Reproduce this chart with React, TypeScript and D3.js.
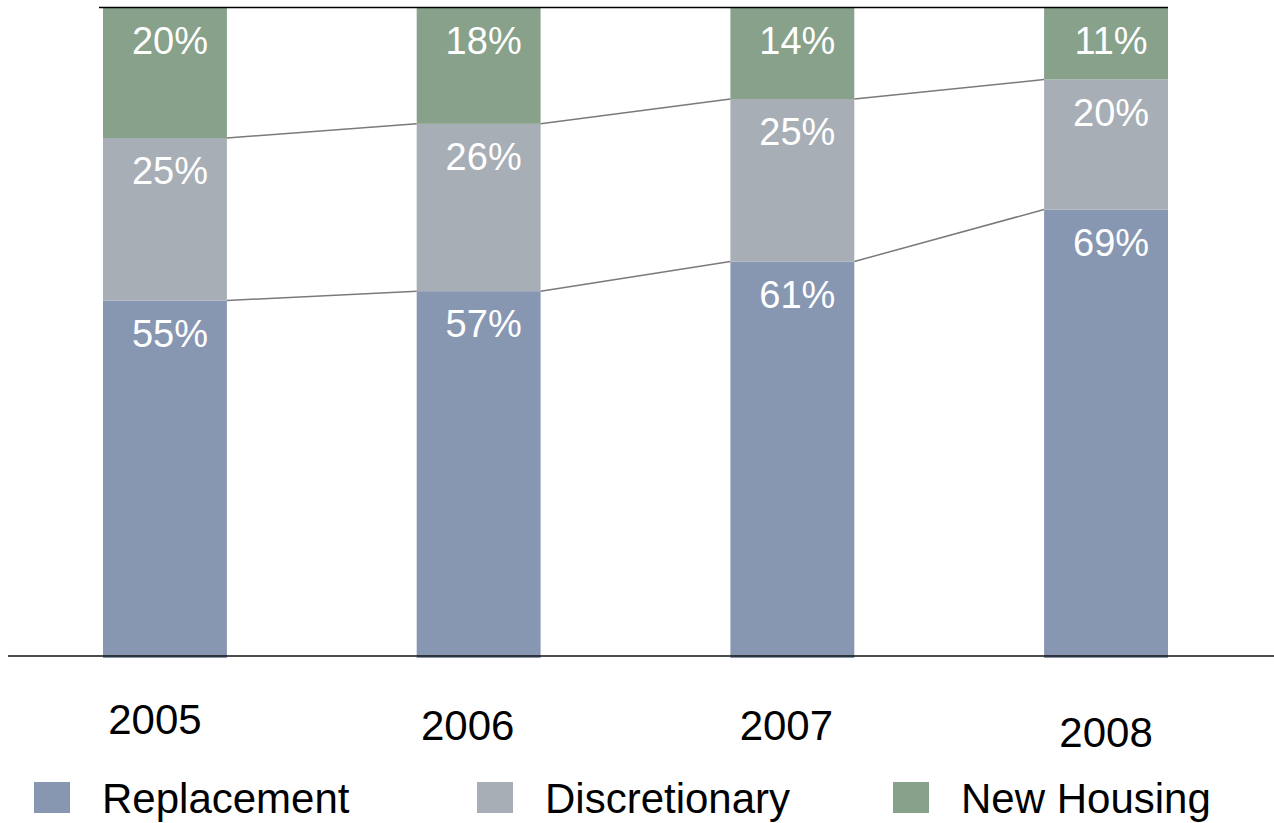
import React from "react";
import * as d3 from "d3";

// Share of spending by segment, per year (percent)
const years = ["2005", "2006", "2007", "2008"];
const replacement = [55, 57, 61, 69];
const discretionary = [25, 26, 25, 20];
const newHousing = [20, 18, 14, 11];

const seriesKeys = ["Replacement", "Discretionary", "New Housing"];
const seriesColors = ["#8797b2", "#a7aeb5", "#87a18a"];

// Small per-label nudges for the year captions [dx, baseline]
const yearLabelNudge: [number, number][] = [
  [-10, 734],
  [-11, 740],
  [-6, 740],
  [0, 747],
];

const W = 1274;
const H = 823;
const FONT = "'Liberation Sans', Arial, sans-serif";

export default function App() {
  const rows = years.map((y, i) => ({
    year: y,
    Replacement: replacement[i],
    Discretionary: discretionary[i],
    "New Housing": newHousing[i],
  }));

  const stack = d3
    .stack<any>()
    .keys(seriesKeys)
    .offset(d3.stackOffsetExpand);
  const layers = stack(rows);

  const x = d3
    .scaleBand<string>()
    .domain(years)
    .range([103, 1168])
    .paddingInner(0.605)
    .paddingOuter(0);
  const y = d3.scaleLinear().domain([0, 1]).range([658, 8]);
  const bw = x.bandwidth();

  // Connector lines between the segment boundaries of neighbouring bars
  const connectors: { x1: number; y1: number; x2: number; y2: number }[] = [];
  for (let k = 0; k < layers.length - 1; k++) {
    const layer = layers[k];
    for (let i = 0; i < years.length - 1; i++) {
      connectors.push({
        x1: (x(years[i]) as number) + bw,
        y1: y(layer[i][1]),
        x2: x(years[i + 1]) as number,
        y2: y(layer[i + 1][1]),
      });
    }
  }

  const legendX = [34, 477, 893];

  return (
    <svg
      width={W}
      height={H}
      style={{ position: "absolute", left: 0, top: 0, background: "#fff" }}
      fontFamily={FONT}
    >
      {layers.map((layer, k) => (
        <g key={seriesKeys[k]} fill={seriesColors[k]}>
          {layer.map((d, i) => (
            <rect
              key={years[i]}
              x={x(years[i])}
              y={y(d[1])}
              width={bw}
              height={y(d[0]) - y(d[1])}
            />
          ))}
        </g>
      ))}

      {connectors.map((c, i) => (
        <line
          key={i}
          x1={c.x1}
          y1={c.y1}
          x2={c.x2}
          y2={c.y2}
          stroke="#7a7a7a"
          strokeWidth={1.5}
        />
      ))}

      {layers.map((layer, k) =>
        layer.map((d, i) => (
          <text
            key={`${k}-${i}`}
            x={(x(years[i]) as number) + bw / 2 + 5}
            y={y(d[1]) + 46}
            textAnchor="middle"
            fill="#fff"
            fontSize={38}
          >
            {`${(rows[i] as any)[seriesKeys[k]]}%`}
          </text>
        ))
      )}

      {/* plot frame top and baseline */}
      <line x1={99} x2={1168} y1={7.5} y2={7.5} stroke="#000" strokeWidth={1.6} />
      <line x1={8} x2={1274} y1={656} y2={656} stroke="#111" strokeWidth={1.6} />

      {years.map((yr, i) => (
        <text
          key={yr}
          x={(x(yr) as number) + bw / 2 + yearLabelNudge[i][0]}
          y={yearLabelNudge[i][1]}
          textAnchor="middle"
          fill="#000"
          fontSize={42}
        >
          {yr}
        </text>
      ))}

      {seriesKeys.map((key, k) => (
        <g key={key}>
          <rect
            x={legendX[k]}
            y={782}
            width={36}
            height={31}
            fill={seriesColors[k]}
          />
          <text x={legendX[k] + 68} y={813} fontSize={42} fill="#000">
            {key}
          </text>
        </g>
      ))}
    </svg>
  );
}
